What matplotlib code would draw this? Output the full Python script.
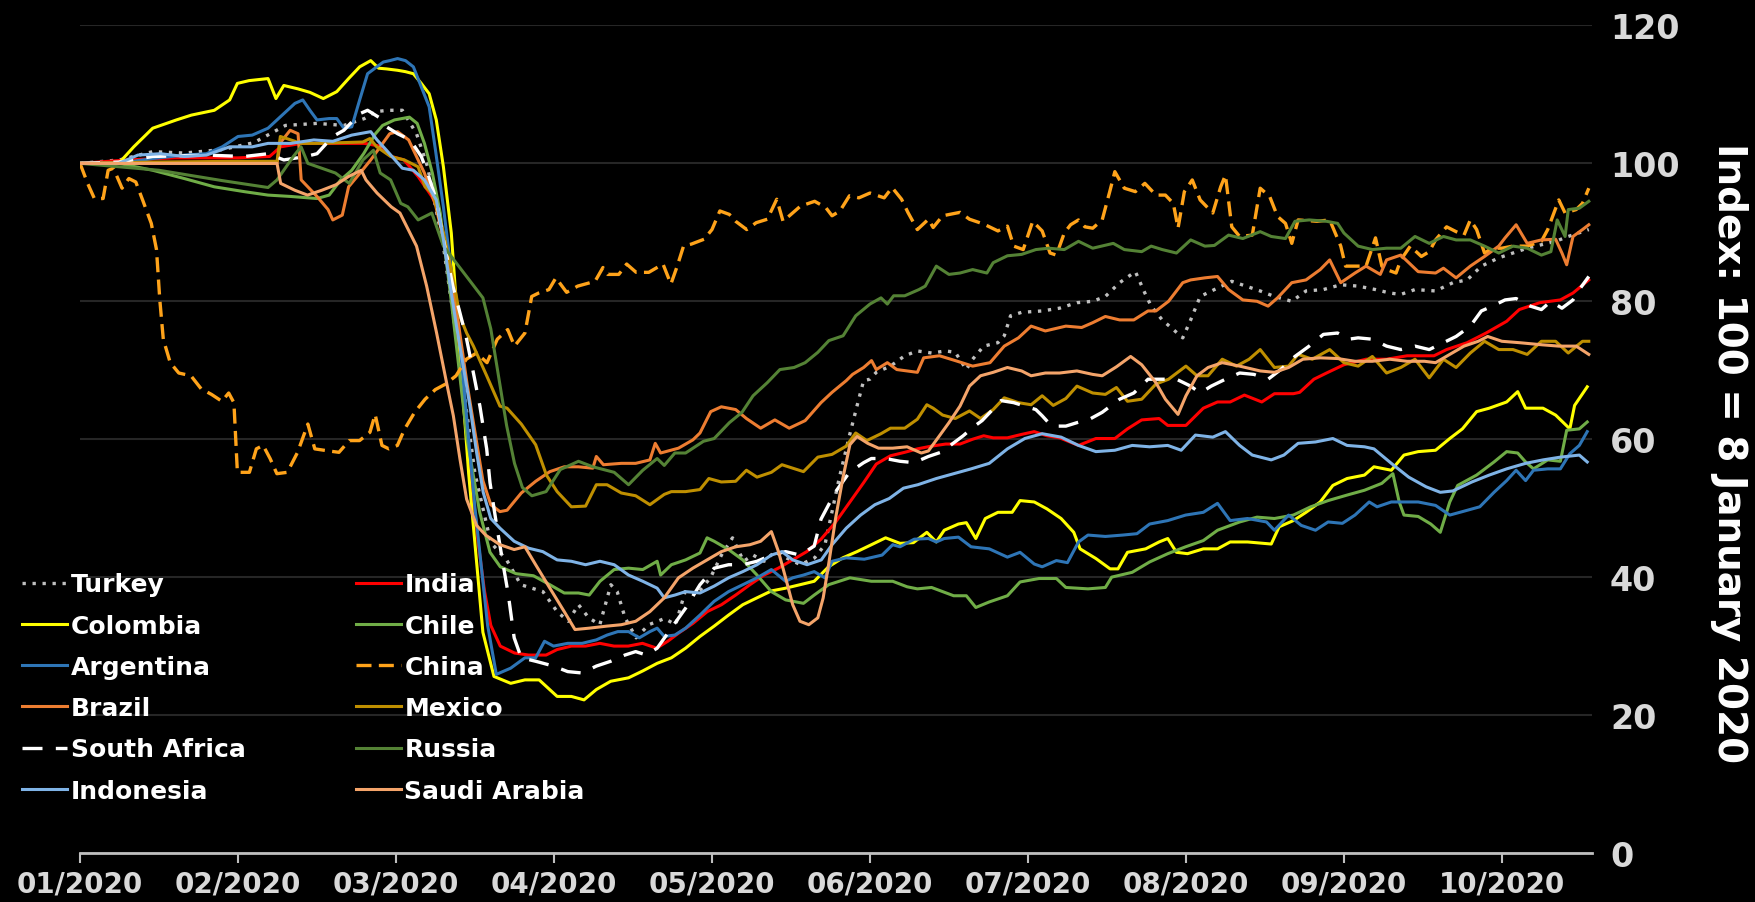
import matplotlib
matplotlib.use("Agg")
import matplotlib.pyplot as plt

# x positions are in months since the start of 01/2020 (category-style axis)
month_labels = ["01/2020", "02/2020", "03/2020", "04/2020", "05/2020",
                "06/2020", "07/2020", "08/2020", "09/2020", "10/2020"]
y_ticks = [0, 20, 40, 60, 80, 100, 120]

turkey = [(0, 100), (0.25, 100.5), (0.46, 101.7), (0.66, 101.5), (0.9, 102), (1.1, 103), (1.3, 105.5),
          (1.5, 105.8), (1.67, 105.5), (1.8, 106.5), (1.87, 107.5), (1.95, 107.7), (2.04, 107.7),
          (2.13, 104.3), (2.2, 99.5), (2.3, 88), (2.4, 72), (2.5, 55), (2.6, 45), (2.7, 42.5),
          (2.79, 38.9), (2.93, 37.9), (3.02, 35), (3.09, 33.6), (3.155, 36), (3.22, 34.1), (3.29, 33.1),
          (3.36, 38.9), (3.4, 37.9), (3.45, 34.1), (3.52, 31.2), (3.6, 33.1), (3.7, 34), (3.77, 33.1),
          (3.83, 37.9), (3.9, 37.4), (3.99, 39.9), (4.06, 43.2), (4.13, 45.7), (4.2, 42.3), (4.26, 43.2),
          (4.33, 42.3), (4.4, 43.7), (4.47, 42.8), (4.56, 41.8), (4.65, 42.8), (4.715, 44.7), (4.76, 49.5),
          (4.805, 54.3), (4.87, 60.5), (4.92, 65), (4.96, 68.5), (5.0, 68.7), (5.04, 69.7), (5.13, 70.6),
          (5.22, 72.1), (5.3, 72.8), (5.39, 72.5), (5.48, 72.8), (5.54, 72.6), (5.61, 70.1), (5.65, 71.6),
          (5.72, 73.5), (5.81, 74), (5.85, 75), (5.89, 77.9), (5.96, 78.4), (6.09, 78.6), (6.2, 79),
          (6.31, 79.8), (6.41, 80), (6.49, 80.7), (6.58, 82.7), (6.68, 84.3), (6.74, 81.2), (6.78, 79.3),
          (6.85, 77.3), (6.92, 75.9), (6.98, 74.7), (7.03, 77.3), (7.09, 80.7), (7.18, 81.7), (7.29, 82.9),
          (7.38, 82.2), (7.47, 81.5), (7.56, 80.7), (7.67, 80), (7.76, 81.5), (7.87, 81.7), (7.98, 82.4),
          (8.09, 82.2), (8.2, 81.7), (8.29, 81.2), (8.36, 81), (8.45, 81.7), (8.58, 81.5), (8.69, 82.7),
          (8.78, 83.1), (8.87, 85.1), (8.98, 86.3), (9.07, 87), (9.16, 87.7), (9.25, 88.2), (9.34, 88.7),
          (9.42, 89.4), (9.55, 90.4)]

india = [(0, 100), (0.3, 100.5), (0.6, 100.8), (1.0, 100.8), (1.2, 101), (1.27, 102.4), (1.4, 102.9),
         (1.6, 102.9), (1.8, 102.9), (1.9, 102.5), (1.97, 101), (2.05, 100.5), (2.14, 98.1), (2.227, 95.2),
         (2.27, 93.3), (2.35, 82), (2.45, 60), (2.52, 45), (2.56, 38), (2.6, 33), (2.66, 30), (2.75, 29),
         (2.84, 28.7), (2.95, 28.7), (3.02, 29.5), (3.11, 30), (3.2, 30), (3.29, 30.4), (3.38, 30),
         (3.47, 30), (3.56, 30.4), (3.65, 29.7), (3.72, 30.7), (3.79, 31.9), (3.88, 33.3), (3.97, 35),
         (4.06, 36), (4.15, 37.4), (4.24, 38.9), (4.33, 40.3), (4.42, 41.3), (4.51, 42.5), (4.6, 43.7),
         (4.69, 45.5), (4.78, 47.9), (4.87, 50.8), (4.96, 53.7), (5.04, 56.4), (5.13, 57.6), (5.22, 58.1),
         (5.3, 58.6), (5.39, 59), (5.48, 59.3), (5.57, 59.3), (5.65, 60), (5.72, 60.5), (5.78, 60.2),
         (5.87, 60.2), (5.96, 60.7), (6.04, 61.1), (6.12, 60.5), (6.2, 60.2), (6.32, 59.1), (6.43, 60.1),
         (6.55, 60.1), (6.63, 61.5), (6.72, 62.8), (6.83, 63), (6.885, 62), (7.0, 62), (7.11, 64.5),
         (7.2, 65.4), (7.28, 65.4), (7.37, 66.4), (7.48, 65.4), (7.56, 66.6), (7.68, 66.6), (7.72, 66.8),
         (7.81, 68.7), (7.89, 69.6), (8.0, 70.8), (8.14, 71.6), (8.27, 71.6), (8.4, 72.1), (8.57, 72.1),
         (8.65, 73), (8.78, 74), (8.9, 75.4), (9.03, 77.1), (9.11, 78.8), (9.24, 79.8), (9.37, 80.2),
         (9.45, 81.2), (9.55, 83.1)]

colombia = [(0, 100), (0.245, 100), (0.34, 102.4), (0.46, 105.1), (0.61, 106.3), (0.705, 107), (0.85, 107.7),
            (0.947, 109.2), (0.996, 111.6), (1.07, 112), (1.19, 112.3), (1.24, 109.4), (1.29, 111.3),
            (1.38, 110.8), (1.455, 110.3), (1.54, 109.4), (1.625, 110.4), (1.7, 112.3), (1.77, 114),
            (1.84, 114.9), (1.89, 113.8), (1.94, 113.7), (2.01, 113.5), (2.06, 113.3), (2.11, 113),
            (2.16, 111.6), (2.21, 110.1), (2.255, 106.3), (2.3, 99.5), (2.35, 89.9), (2.38, 80.2),
            (2.46, 55), (2.55, 32), (2.62, 25.6), (2.726, 24.6), (2.816, 25.1), (2.906, 25.1), (3.02, 22.7),
            (3.11, 22.7), (3.19, 22.2), (3.268, 23.7), (3.359, 24.9), (3.472, 25.4), (3.562, 26.4),
            (3.653, 27.5), (3.743, 28.3), (3.833, 29.7), (3.924, 31.4), (4.014, 32.9), (4.105, 34.5),
            (4.195, 36), (4.285, 37), (4.376, 38), (4.466, 38.4), (4.557, 38.9), (4.647, 39.4),
            (4.738, 41.5), (4.828, 42.8), (4.918, 43.7), (5.009, 44.7), (5.099, 45.7), (5.19, 44.9),
            (5.275, 45), (5.36, 46.5), (5.42, 45.1), (5.47, 46.8), (5.56, 47.7), (5.61, 47.9), (5.67, 45.6),
            (5.73, 48.5), (5.81, 49.4), (5.9, 49.4), (5.95, 51.1), (6.04, 50.9), (6.12, 49.9), (6.21, 48.5),
            (6.29, 46.5), (6.33, 44.1), (6.43, 42.7), (6.52, 41.2), (6.57, 41.2), (6.63, 43.6),
            (6.745, 44.1), (6.83, 45.1), (6.885, 45.6), (6.94, 43.6), (7.01, 43.4), (7.11, 44.1),
            (7.2, 44.1), (7.28, 45.1), (7.39, 45.1), (7.54, 44.8), (7.59, 47.3), (7.68, 48.2), (7.76, 49.4),
            (7.85, 50.9), (7.93, 53.3), (8.02, 54.3), (8.13, 54.8), (8.19, 56), (8.3, 55.5), (8.38, 57.7),
            (8.47, 58.2), (8.58, 58.4), (8.67, 60.1), (8.75, 61.5), (8.84, 64), (8.92, 64.5), (9.03, 65.4),
            (9.1, 66.9), (9.15, 64.5), (9.26, 64.5), (9.34, 63.5), (9.43, 61.5), (9.46, 64.9), (9.54, 67.6)]

chile = [(0, 100), (0.245, 100), (0.46, 99), (0.66, 97.8), (0.85, 96.6), (1.04, 95.9), (1.19, 95.4),
         (1.335, 95.2), (1.5, 94.9), (1.577, 95.4), (1.65, 97.6), (1.72, 99), (1.795, 101.4), (1.87, 104.3),
         (1.915, 105.5), (1.99, 106.3), (2.085, 106.7), (2.134, 105.8), (2.18, 102.9), (2.23, 98.6),
         (2.28, 92.8), (2.35, 80), (2.45, 60), (2.53, 49.4), (2.595, 43.6), (2.66, 41.5), (2.76, 40.5),
         (2.87, 40.2), (2.974, 38.9), (3.065, 37.7), (3.155, 37.7), (3.223, 37.4), (3.291, 39.4),
         (3.381, 41.1), (3.472, 41.3), (3.562, 41.1), (3.653, 42.3), (3.675, 40.3), (3.743, 41.8),
         (3.833, 42.5), (3.924, 43.5), (3.969, 45.7), (4.014, 45.2), (4.105, 44), (4.195, 42.5),
         (4.285, 40.3), (4.376, 37.9), (4.466, 36.7), (4.579, 36.2), (4.647, 37.4), (4.738, 38.9),
         (4.873, 39.9), (5.009, 39.4), (5.144, 39.4), (5.235, 38.6), (5.3, 38.3), (5.39, 38.5),
         (5.53, 37.3), (5.61, 37.3), (5.67, 35.6), (5.755, 36.4), (5.87, 37.3), (5.95, 39.3), (6.07, 39.8),
         (6.18, 39.8), (6.24, 38.5), (6.38, 38.3), (6.49, 38.5), (6.53, 40), (6.66, 40.7), (6.77, 42.2),
         (6.885, 43.4), (6.998, 44.4), (7.11, 45.3), (7.2, 46.8), (7.34, 48), (7.45, 48.7), (7.56, 48.5),
         (7.68, 49), (7.79, 50.2), (7.9, 51.1), (8.02, 51.9), (8.13, 52.6), (8.24, 53.6), (8.31, 55),
         (8.35, 50.9), (8.38, 49), (8.47, 48.8), (8.55, 47.7), (8.61, 46.5), (8.67, 50.9), (8.72, 53.3),
         (8.84, 54.8), (8.95, 56.7), (9.03, 58.2), (9.1, 58), (9.15, 56.7), (9.2, 55.7), (9.29, 57),
         (9.37, 56.8), (9.41, 61.3), (9.49, 61.5), (9.54, 62.5)]

argentina = [(0, 100), (0.245, 100), (0.46, 100.7), (0.66, 101.2), (0.8, 101.4), (0.9, 102.4), (1.0, 103.9),
             (1.09, 104.1), (1.19, 105.1), (1.36, 108.7), (1.41, 109.2), (1.455, 107.7), (1.5, 106.3),
             (1.577, 106.5), (1.625, 106.5), (1.67, 105.1), (1.72, 105.3), (1.77, 109.2), (1.82, 113),
             (1.92, 114.7), (1.96, 114.9), (2.01, 115.2), (2.06, 114.9), (2.11, 114), (2.16, 111.1),
             (2.21, 108.2), (2.25, 101.9), (2.3, 93.7), (2.4, 75), (2.5, 50), (2.58, 33), (2.635, 25.9),
             (2.726, 26.8), (2.816, 28.3), (2.884, 28.3), (2.94, 30.7), (2.997, 30), (3.087, 30.4),
             (3.178, 30.4), (3.268, 30.9), (3.336, 31.6), (3.404, 32.1), (3.472, 32.1), (3.54, 31.2),
             (3.607, 32.1), (3.653, 32.6), (3.698, 31.4), (3.765, 31.6), (3.833, 32.6), (3.924, 34.5),
             (4.014, 36.5), (4.105, 37.9), (4.195, 38.9), (4.285, 39.9), (4.376, 41.1), (4.466, 39.4),
             (4.511, 39.9), (4.579, 40.3), (4.647, 40.8), (4.715, 39.9), (4.76, 42.3), (4.85, 42.8),
             (4.964, 42.6), (5.077, 43.2), (5.144, 44.7), (5.19, 44.4), (5.28, 45.5), (5.37, 45.6),
             (5.42, 45.1), (5.47, 45.6), (5.56, 45.8), (5.64, 44.4), (5.755, 44.1), (5.87, 42.9),
             (5.95, 43.6), (6.04, 41.9), (6.09, 41.5), (6.18, 42.4), (6.25, 42.1), (6.32, 45.1),
             (6.38, 46.1), (6.49, 45.9), (6.6, 46.1), (6.69, 46.3), (6.77, 47.7), (6.885, 48.2),
             (6.998, 49), (7.11, 49.4), (7.2, 50.7), (7.28, 48.2), (7.39, 48.5), (7.51, 48), (7.56, 46.8),
             (7.65, 49), (7.73, 47.5), (7.82, 46.8), (7.9, 48), (7.99, 47.8), (8.07, 49), (8.16, 50.9),
             (8.21, 50.2), (8.3, 50.9), (8.38, 50.9), (8.47, 50.9), (8.58, 50.4), (8.67, 49), (8.75, 49.5),
             (8.86, 50.2), (8.95, 52.3), (9.03, 54), (9.09, 55.5), (9.15, 54), (9.2, 55.5), (9.29, 55.7),
             (9.37, 55.7), (9.43, 57.9), (9.49, 59.1), (9.54, 61.1)]

china = [(0, 100), (0.048, 97.1), (0.091, 94.9), (0.146, 94.9), (0.178, 99), (0.211, 99.3), (0.266, 96.4),
         (0.309, 97.8), (0.353, 97.3), (0.396, 94.7), (0.451, 91.3), (0.484, 87.5), (0.505, 80.2),
         (0.527, 74.5), (0.571, 71.1), (0.625, 69.6), (0.702, 69.2), (0.767, 67.3), (0.832, 66.5),
         (0.898, 65.5), (0.941, 66.7), (0.974, 65.3), (0.996, 55.2), (1.072, 55.2), (1.116, 58.6),
         (1.159, 59.1), (1.203, 57.2), (1.246, 55), (1.312, 55.2), (1.377, 58.1), (1.442, 62.2),
         (1.486, 58.6), (1.573, 58.3), (1.639, 58.1), (1.704, 59.8), (1.769, 59.8), (1.835, 61),
         (1.868, 63.6), (1.911, 59.1), (1.955, 58.6), (2.009, 59.1), (2.053, 61.4), (2.118, 63.9),
         (2.184, 65.8), (2.249, 67.2), (2.314, 68), (2.38, 69.2), (2.445, 71.6), (2.51, 72.5),
         (2.576, 71.1), (2.641, 74.5), (2.707, 75.9), (2.75, 73.5), (2.816, 75.4), (2.859, 80.7),
         (2.903, 81.2), (2.968, 81.7), (3.012, 83.4), (3.08, 81.3), (3.15, 82.2), (3.26, 82.9),
         (3.31, 84.9), (3.34, 83.9), (3.41, 83.9), (3.46, 85.4), (3.52, 84.2), (3.6, 84.2), (3.69, 85.4),
         (3.74, 82.5), (3.78, 85.1), (3.82, 88), (3.87, 88.3), (3.95, 89), (4.0, 90.4), (4.05, 93.1),
         (4.11, 92.6), (4.15, 91.6), (4.22, 90.4), (4.28, 91.4), (4.35, 91.9), (4.41, 94.8), (4.45, 91.6),
         (4.49, 92.4), (4.56, 93.8), (4.65, 94.5), (4.72, 93.6), (4.76, 92.4), (4.81, 93.1), (4.87, 95.3),
         (4.93, 95), (5.0, 95.7), (5.09, 95), (5.14, 96.5), (5.2, 94.8), (5.24, 92.9), (5.3, 90.4),
         (5.37, 91.9), (5.4, 90.7), (5.46, 92.4), (5.57, 92.9), (5.63, 91.9), (5.72, 91.2), (5.81, 90.2),
         (5.87, 90.9), (5.91, 88), (5.97, 87.5), (6.03, 91.6), (6.09, 90.2), (6.14, 87), (6.18, 86.7),
         (6.23, 89.9), (6.27, 91.1), (6.32, 91.8), (6.36, 90.8), (6.41, 90.6), (6.47, 91.8), (6.52, 96.1),
         (6.55, 98.8), (6.61, 96.4), (6.68, 95.9), (6.74, 97.1), (6.81, 95.4), (6.87, 95.4), (6.92, 94.2),
         (6.95, 90.6), (6.99, 95.9), (7.04, 97.6), (7.09, 94.7), (7.17, 92.8), (7.22, 96.6), (7.25, 98.3),
         (7.29, 90.8), (7.34, 89.4), (7.42, 89.6), (7.47, 96.4), (7.53, 95.2), (7.58, 92.3), (7.63, 91.3),
         (7.67, 88.4), (7.71, 91.8), (7.83, 91.6), (7.91, 91.8), (7.98, 88), (8.01, 85.1), (8.09, 85.1),
         (8.14, 85.1), (8.2, 89.2), (8.24, 85.1), (8.27, 84.6), (8.33, 84.1), (8.36, 86), (8.42, 88),
         (8.49, 86.5), (8.54, 87.2), (8.58, 88.9), (8.65, 90.8), (8.71, 90.1), (8.76, 89.6), (8.8, 91.8),
         (8.84, 90.4), (8.89, 87), (8.94, 87.7), (9.0, 87.7), (9.07, 88), (9.16, 88), (9.25, 88.7),
         (9.29, 90.4), (9.36, 94.7), (9.4, 92.8), (9.47, 93.3), (9.51, 94.2), (9.55, 96.4)]

brazil = [(0, 100), (0.5, 100), (1.0, 100), (1.247, 100), (1.268, 103), (1.33, 104.8), (1.38, 104.3),
          (1.4, 97.6), (1.5, 95.2), (1.57, 93.3), (1.6, 91.8), (1.66, 92.5), (1.7, 96.6), (1.78, 98.8),
          (1.84, 100.5), (1.96, 104.3), (2.01, 104.6), (2.08, 103.4), (2.14, 100.5), (2.18, 98.6),
          (2.25, 94), (2.35, 84), (2.45, 68), (2.55, 54), (2.6, 50.5), (2.658, 49.5), (2.703, 49.7),
          (2.793, 52.2), (2.884, 53.9), (2.974, 55.3), (3.065, 56), (3.155, 56), (3.246, 55.8),
          (3.268, 57.5), (3.313, 56.3), (3.426, 56.5), (3.517, 56.5), (3.607, 57), (3.641, 59.4),
          (3.675, 58), (3.788, 58.7), (3.879, 59.9), (3.924, 60.9), (3.992, 64), (4.059, 64.7),
          (4.15, 64.3), (4.218, 63), (4.308, 61.6), (4.398, 62.8), (4.489, 61.6), (4.59, 62.7),
          (4.69, 65.3), (4.76, 66.8), (4.85, 68.5), (4.89, 69.4), (4.96, 70.4), (5.01, 71.4), (5.04, 70.1),
          (5.11, 71.1), (5.17, 70.1), (5.3, 69.7), (5.34, 71.8), (5.44, 72.1), (5.54, 71.4), (5.65, 70.6),
          (5.76, 71.1), (5.85, 73.5), (5.94, 74.7), (6.02, 76.4), (6.11, 75.7), (6.24, 76.4), (6.34, 76.2),
          (6.41, 76.9), (6.49, 77.8), (6.58, 77.3), (6.67, 77.3), (6.76, 78.6), (6.81, 78.6), (6.89, 80),
          (6.98, 82.7), (7.03, 83.1), (7.12, 83.4), (7.2, 83.6), (7.27, 81.7), (7.36, 80.2), (7.45, 80),
          (7.52, 79.3), (7.58, 80.5), (7.67, 82.7), (7.76, 83.1), (7.85, 84.6), (7.91, 86), (7.98, 82.7),
          (8.07, 84.1), (8.14, 85.1), (8.23, 83.9), (8.27, 86), (8.36, 86.7), (8.47, 84.3), (8.58, 84.1),
          (8.63, 84.8), (8.71, 83.4), (8.8, 85.1), (8.89, 86.5), (8.98, 88), (9.02, 89.2), (9.09, 91.1),
          (9.16, 88.4), (9.25, 88.9), (9.34, 89), (9.38, 87), (9.41, 85.3), (9.45, 89.4), (9.51, 90.4),
          (9.55, 91.1)]

mexico = [(0, 100), (0.5, 100.2), (1.0, 100.3), (1.247, 100.3), (1.268, 103.9), (1.4, 102.9), (1.51, 102.9),
          (1.65, 103), (1.79, 103.1), (1.835, 103.6), (1.878, 102.4), (1.966, 101), (2.053, 100.5),
          (2.14, 99.5), (2.184, 96.6), (2.236, 95.5), (2.3, 90), (2.363, 83.1), (2.405, 77.8),
          (2.447, 75.4), (2.49, 73.5), (2.574, 69.2), (2.658, 64.8), (2.703, 64.5), (2.793, 62.2),
          (2.884, 59.2), (2.952, 54.8), (3.02, 52.4), (3.11, 50.2), (3.2, 50.3), (3.268, 53.4),
          (3.336, 53.4), (3.426, 52.2), (3.517, 51.8), (3.607, 50.5), (3.698, 52), (3.743, 52.4),
          (3.833, 52.4), (3.924, 52.7), (3.98, 54.3), (4.059, 53.8), (4.15, 53.9), (4.218, 55.5),
          (4.285, 54.5), (4.376, 55.2), (4.443, 56.3), (4.511, 55.8), (4.579, 55.3), (4.67, 57.4),
          (4.76, 57.8), (4.85, 59), (4.91, 60.9), (4.98, 59.8), (5.07, 60.8), (5.13, 61.6), (5.22, 61.6),
          (5.3, 62.9), (5.36, 65), (5.4, 64.5), (5.46, 63.5), (5.54, 63), (5.63, 64.1), (5.7, 63),
          (5.78, 64.3), (5.85, 66), (5.94, 65.3), (6.02, 65), (6.09, 66.3), (6.16, 64.9), (6.24, 65.9),
          (6.31, 67.7), (6.41, 66.7), (6.49, 66.5), (6.56, 67.5), (6.63, 65.5), (6.72, 65.8), (6.81, 68),
          (6.89, 68.7), (7.0, 70.6), (7.07, 69.2), (7.14, 69.2), (7.23, 71.6), (7.32, 70.6), (7.4, 71.6),
          (7.47, 73), (7.56, 70.4), (7.65, 70.6), (7.71, 72.3), (7.8, 71.6), (7.91, 73), (8.0, 71.1),
          (8.09, 70.6), (8.18, 72), (8.27, 69.6), (8.36, 70.4), (8.45, 71.6), (8.54, 68.9), (8.63, 71.6),
          (8.71, 70.4), (8.8, 72.5), (8.89, 74.2), (8.98, 73), (9.07, 73), (9.16, 72.3), (9.25, 74.2),
          (9.34, 74.2), (9.42, 72.5), (9.51, 74.2), (9.55, 74.2)]

south_africa = [(0, 100), (0.25, 100.2), (0.46, 101), (0.8, 101.2), (1.04, 101), (1.19, 101.4), (1.29, 100.5),
                (1.43, 101), (1.5, 101.4), (1.6, 103.9), (1.67, 104.8), (1.77, 107.2), (1.82, 107.7),
                (1.89, 106.7), (1.94, 105.3), (2.01, 104.3), (2.09, 103.4), (2.16, 101), (2.2, 98.6),
                (2.255, 94.7), (2.3, 89), (2.36, 82.2), (2.405, 78.3), (2.447, 74.5), (2.49, 69.6),
                (2.531, 64.8), (2.574, 58.6), (2.595, 53.7), (2.637, 47.5), (2.679, 41.7), (2.71, 37.6),
                (2.748, 31.2), (2.793, 28.3), (2.884, 27.8), (2.997, 27.1), (3.087, 26.3), (3.178, 26.1),
                (3.268, 27.1), (3.359, 27.8), (3.449, 28.7), (3.517, 29.2), (3.585, 28.7), (3.653, 29.7),
                (3.743, 32.6), (3.833, 35.5), (3.924, 38.9), (4.014, 41.3), (4.105, 41.8), (4.195, 41.8),
                (4.285, 42.3), (4.376, 43.2), (4.466, 43.7), (4.557, 43.2), (4.647, 44.5), (4.69, 48.4),
                (4.78, 52.3), (4.87, 55.2), (4.96, 56.6), (5.009, 57.2), (5.099, 57.2), (5.19, 56.8),
                (5.28, 56.6), (5.37, 57.5), (5.461, 58.2), (5.52, 59.3), (5.59, 60.5), (5.65, 61.7),
                (5.71, 62.7), (5.76, 63.9), (5.83, 65.6), (5.91, 65.3), (5.98, 64.8), (6.05, 64.3),
                (6.09, 63.4), (6.15, 61.9), (6.24, 61.9), (6.31, 62.4), (6.39, 62.9), (6.47, 63.9),
                (6.58, 65.8), (6.67, 66.7), (6.76, 68.7), (6.85, 68.7), (6.94, 68.7), (7.03, 67.7),
                (7.09, 66.7), (7.16, 67.7), (7.25, 68.7), (7.34, 69.6), (7.43, 69.4), (7.52, 68.7),
                (7.6, 70.1), (7.69, 72), (7.78, 73.5), (7.87, 75.2), (7.96, 75.4), (8.03, 74.5), (8.09, 74.7),
                (8.18, 74.5), (8.27, 73.5), (8.36, 73), (8.45, 73.5), (8.54, 73), (8.63, 74), (8.71, 74.9),
                (8.8, 76.4), (8.87, 78.6), (8.94, 79.3), (9.02, 80.2), (9.09, 80.4), (9.18, 79.3),
                (9.25, 78.8), (9.31, 80), (9.38, 79), (9.45, 80.2), (9.49, 81.7), (9.55, 83.6)]

russia = [(0, 100), (0.5, 99), (0.9, 97.5), (1.19, 96.5), (1.247, 97.6), (1.35, 101), (1.399, 102.4),
          (1.442, 100), (1.617, 98.6), (1.704, 97.1), (1.791, 100.5), (1.857, 101.9), (1.9, 98.6),
          (1.966, 97.6), (2.03, 94.2), (2.075, 93.7), (2.14, 91.8), (2.227, 92.8), (2.3, 88), (2.45, 83.5),
          (2.55, 80.5), (2.6, 76), (2.65, 69), (2.7, 62), (2.75, 56.5), (2.8, 53), (2.86, 51.8),
          (2.95, 52.4), (3.04, 55.6), (3.155, 56.8), (3.246, 56), (3.381, 55.2), (3.472, 53.4),
          (3.562, 55.5), (3.653, 57.2), (3.698, 56.2), (3.765, 58), (3.833, 58), (3.946, 59.7),
          (4.014, 60.1), (4.11, 62.4), (4.19, 63.9), (4.26, 66.3), (4.35, 68.2), (4.43, 70.1), (4.52, 70.4),
          (4.59, 71.1), (4.67, 72.6), (4.74, 74.3), (4.83, 75), (4.91, 77.9), (5.0, 79.6), (5.07, 80.5),
          (5.11, 79.6), (5.15, 80.8), (5.22, 80.8), (5.31, 81.7), (5.35, 82.2), (5.42, 85.1), (5.5, 83.9),
          (5.57, 84.1), (5.65, 84.6), (5.74, 84.1), (5.78, 85.6), (5.87, 86.6), (5.96, 86.8), (6.05, 87.5),
          (6.13, 87.7), (6.23, 87.5), (6.32, 88.7), (6.41, 87.7), (6.54, 88.4), (6.61, 87.5), (6.72, 87.2),
          (6.78, 88), (6.85, 87.5), (6.94, 87), (7.03, 88.9), (7.12, 88), (7.18, 88.1), (7.27, 89.6),
          (7.36, 89.1), (7.47, 90.1), (7.54, 89.4), (7.63, 89.1), (7.69, 91.6), (7.78, 91.8), (7.89, 91.6),
          (7.96, 91.3), (8.0, 89.9), (8.09, 88), (8.18, 87.5), (8.27, 87.7), (8.36, 87.7), (8.45, 89.4),
          (8.54, 88.4), (8.63, 89.4), (8.71, 88.9), (8.8, 88.9), (8.89, 88), (8.98, 87), (9.07, 88),
          (9.16, 87.7), (9.25, 86.7), (9.31, 87.2), (9.35, 91.8), (9.4, 89.4), (9.42, 93.3), (9.49, 93.5),
          (9.55, 94.5)]

indonesia = [(0, 100), (0.245, 100), (0.366, 101.2), (0.51, 101.4), (0.66, 101), (0.8, 101.2), (0.947, 102.4),
             (1.09, 102.4), (1.19, 102.9), (1.335, 102.9), (1.48, 103.4), (1.6, 103.2), (1.72, 104.1),
             (1.84, 104.6), (1.88, 103.4), (1.94, 101.9), (2.04, 99.3), (2.11, 99), (2.18, 97.6),
             (2.255, 94.7), (2.3, 89), (2.34, 82.7), (2.383, 76.4), (2.426, 70.6), (2.468, 64.8),
             (2.51, 58.1), (2.552, 52.3), (2.6, 48.5), (2.658, 47.1), (2.748, 45.2), (2.839, 44.2),
             (2.929, 43.7), (3.02, 42.5), (3.11, 42.3), (3.2, 41.8), (3.291, 42.3), (3.381, 41.8),
             (3.472, 40.3), (3.562, 39.4), (3.653, 38.4), (3.698, 37), (3.765, 37.4), (3.833, 37.9),
             (3.924, 37.7), (4.014, 38.7), (4.105, 39.9), (4.195, 40.8), (4.285, 41.8), (4.376, 43.2),
             (4.443, 43.7), (4.511, 42.5), (4.602, 41.8), (4.692, 42.5), (4.76, 44.7), (4.85, 47.1),
             (4.941, 49), (5.031, 50.5), (5.122, 51.4), (5.212, 52.9), (5.303, 53.4), (5.42, 54.3),
             (5.53, 55), (5.64, 55.7), (5.755, 56.5), (5.87, 58.6), (5.98, 60.1), (6.09, 60.8), (6.21, 60.3),
             (6.32, 59.1), (6.43, 58.2), (6.55, 58.4), (6.66, 59.1), (6.77, 58.9), (6.885, 59.1),
             (6.97, 58.4), (7.06, 60.6), (7.17, 60.3), (7.25, 61.1), (7.34, 59.1), (7.42, 57.7), (7.54, 57),
             (7.62, 57.7), (7.71, 59.4), (7.82, 59.6), (7.93, 60.1), (8.02, 59.1), (8.13, 58.9), (8.19, 58.6),
             (8.3, 56.5), (8.41, 54.5), (8.52, 53.1), (8.61, 52.3), (8.69, 52.5), (8.81, 53.8), (8.92, 54.8),
             (9.03, 55.7), (9.15, 56.5), (9.26, 57), (9.37, 57.4), (9.49, 57.7), (9.54, 56.7)]

saudi_arabia = [(0, 100), (0.5, 100), (1.0, 100), (1.247, 100), (1.27, 97.1), (1.36, 96.1), (1.44, 95.4),
                (1.53, 96.1), (1.62, 96.9), (1.7, 98.1), (1.78, 99), (1.81, 97.6), (1.88, 95.7), (1.97, 93.7),
                (2.025, 92.8), (2.13, 88), (2.194, 82.2), (2.257, 75.4), (2.32, 68.2), (2.363, 63.4),
                (2.405, 57.1), (2.447, 51.3), (2.51, 47.5), (2.567, 46.1), (2.658, 44.7), (2.748, 44),
                (2.816, 44.4), (2.884, 41.8), (2.974, 38.4), (3.065, 35), (3.133, 32.4), (3.223, 32.6),
                (3.336, 32.9), (3.426, 33.1), (3.517, 33.6), (3.607, 35), (3.698, 37), (3.788, 39.9),
                (3.879, 41.3), (3.969, 42.5), (4.059, 43.7), (4.15, 44.4), (4.24, 44.7), (4.308, 45.2),
                (4.376, 46.6), (4.421, 43.7), (4.466, 39.9), (4.511, 36), (4.557, 33.6), (4.613, 33.1),
                (4.67, 34.1), (4.704, 37), (4.738, 41.8), (4.783, 48.6), (4.828, 54.3), (4.873, 59.2),
                (4.918, 60.4), (4.986, 59.4), (5.054, 58.7), (5.144, 58.7), (5.235, 58.9), (5.325, 58),
                (5.37, 58.3), (5.44, 60.5), (5.5, 62.4), (5.57, 64.8), (5.63, 67.7), (5.7, 69.2), (5.78, 69.7),
                (5.87, 70.4), (5.96, 69.9), (6.02, 69.2), (6.11, 69.6), (6.2, 69.6), (6.31, 69.9), (6.41, 69.4),
                (6.47, 69.2), (6.56, 70.5), (6.65, 72), (6.72, 70.8), (6.81, 68.2), (6.87, 65.8), (6.95, 63.6),
                (7.0, 66.3), (7.07, 69.2), (7.14, 70.4), (7.23, 71.1), (7.34, 70.6), (7.47, 69.9), (7.56, 69.7),
                (7.65, 70.4), (7.74, 71.6), (7.85, 71.8), (7.96, 71.7), (8.07, 71.3), (8.18, 71.3), (8.29, 71.6),
                (8.4, 71.3), (8.51, 71.3), (8.58, 71.1), (8.67, 72.3), (8.76, 73.5), (8.85, 74.2), (8.91, 74.9),
                (9.0, 74.2), (9.11, 74), (9.25, 73.7), (9.36, 73.5), (9.47, 73.5), (9.55, 72.3)]

# drawing order follows the original workbook; legend lists them column by column
series = [
    ("Turkey", turkey, "#bfbfbf", (0, (1, 2))),
    ("India", india, "#ff0000", "-"),
    ("Colombia", colombia, "#ffff00", "-"),
    ("Chile", chile, "#70ad47", "-"),
    ("Argentina", argentina, "#2e75b6", "-"),
    ("China", china, "#ffa31a", (0, (4.5, 2.2))),
    ("Brazil", brazil, "#ed7d31", "-"),
    ("Mexico", mexico, "#bf8f00", "-"),
    ("South Africa", south_africa, "#ffffff", (0, (6, 4))),
    ("Russia", russia, "#548235", "-"),
    ("Indonesia", indonesia, "#7fb3e6", "-"),
    ("Saudi Arabia", saudi_arabia, "#f4a46a", "-"),
]
legend_order = ["Turkey", "Colombia", "Argentina", "Brazil", "South Africa", "Indonesia",
                "India", "Chile", "China", "Mexico", "Russia", "Saudi Arabia"]

plt.rcParams["font.family"] = "DejaVu Sans"

fig = plt.figure(figsize=(17.55, 9.03), dpi=100, facecolor="black")
ax = fig.add_axes([0.0456, 0.0543, 0.8615, 0.9164])
ax.set_facecolor("black")

handles = {}
for name, pts, color, ls in series:
    xs = [p[0] for p in pts]
    ys = [p[1] for p in pts]
    lw = 2.4 if ls != "-" else 2.2
    line, = ax.plot(xs, ys, color=color, lw=lw, linestyle=ls, label=name)
    handles[name] = line

ax.set_xlim(0, 9.57)
ax.set_ylim(0, 120)

# y axis on the right, no tick marks
ax.yaxis.tick_right()
ax.set_yticks(y_ticks)
ax.tick_params(axis="y", length=0, pad=13, labelsize=24, labelcolor="#d9d9d9")
for t in ax.get_yticklabels():
    t.set_fontweight("bold")
ax.yaxis.grid(True, color="#262626", lw=1.5)
ax.set_axisbelow(True)

ax.set_xticks(range(len(month_labels)))
ax.set_xticklabels(month_labels, fontsize=20, fontweight="bold", color="#d9d9d9")
ax.tick_params(axis="x", direction="out", length=7, width=1.5, color="#bfbfbf", pad=5)

for side in ["top", "left", "right"]:
    ax.spines[side].set_visible(False)
ax.spines["bottom"].set_color("#bfbfbf")
ax.spines["bottom"].set_linewidth(2)

fig.text(0.985, 0.498, "Index: 100 = 8 January 2020", rotation=270, ha="center", va="center",
         fontsize=28, fontweight="bold", color="white")

leg = ax.legend([handles[n] for n in legend_order], legend_order, ncol=2,
                loc="upper left", bbox_to_anchor=(0.0125, 0.365), bbox_transform=fig.transFigure,
                frameon=False, borderpad=0, borderaxespad=0, handlelength=1.8, handletextpad=0.15,
                columnspacing=4.4, labelspacing=0.69,
                prop={"size": 18, "weight": "bold"})
for t in leg.get_texts():
    t.set_color("white")

fig.savefig("out.png", dpi=100, facecolor="black")
